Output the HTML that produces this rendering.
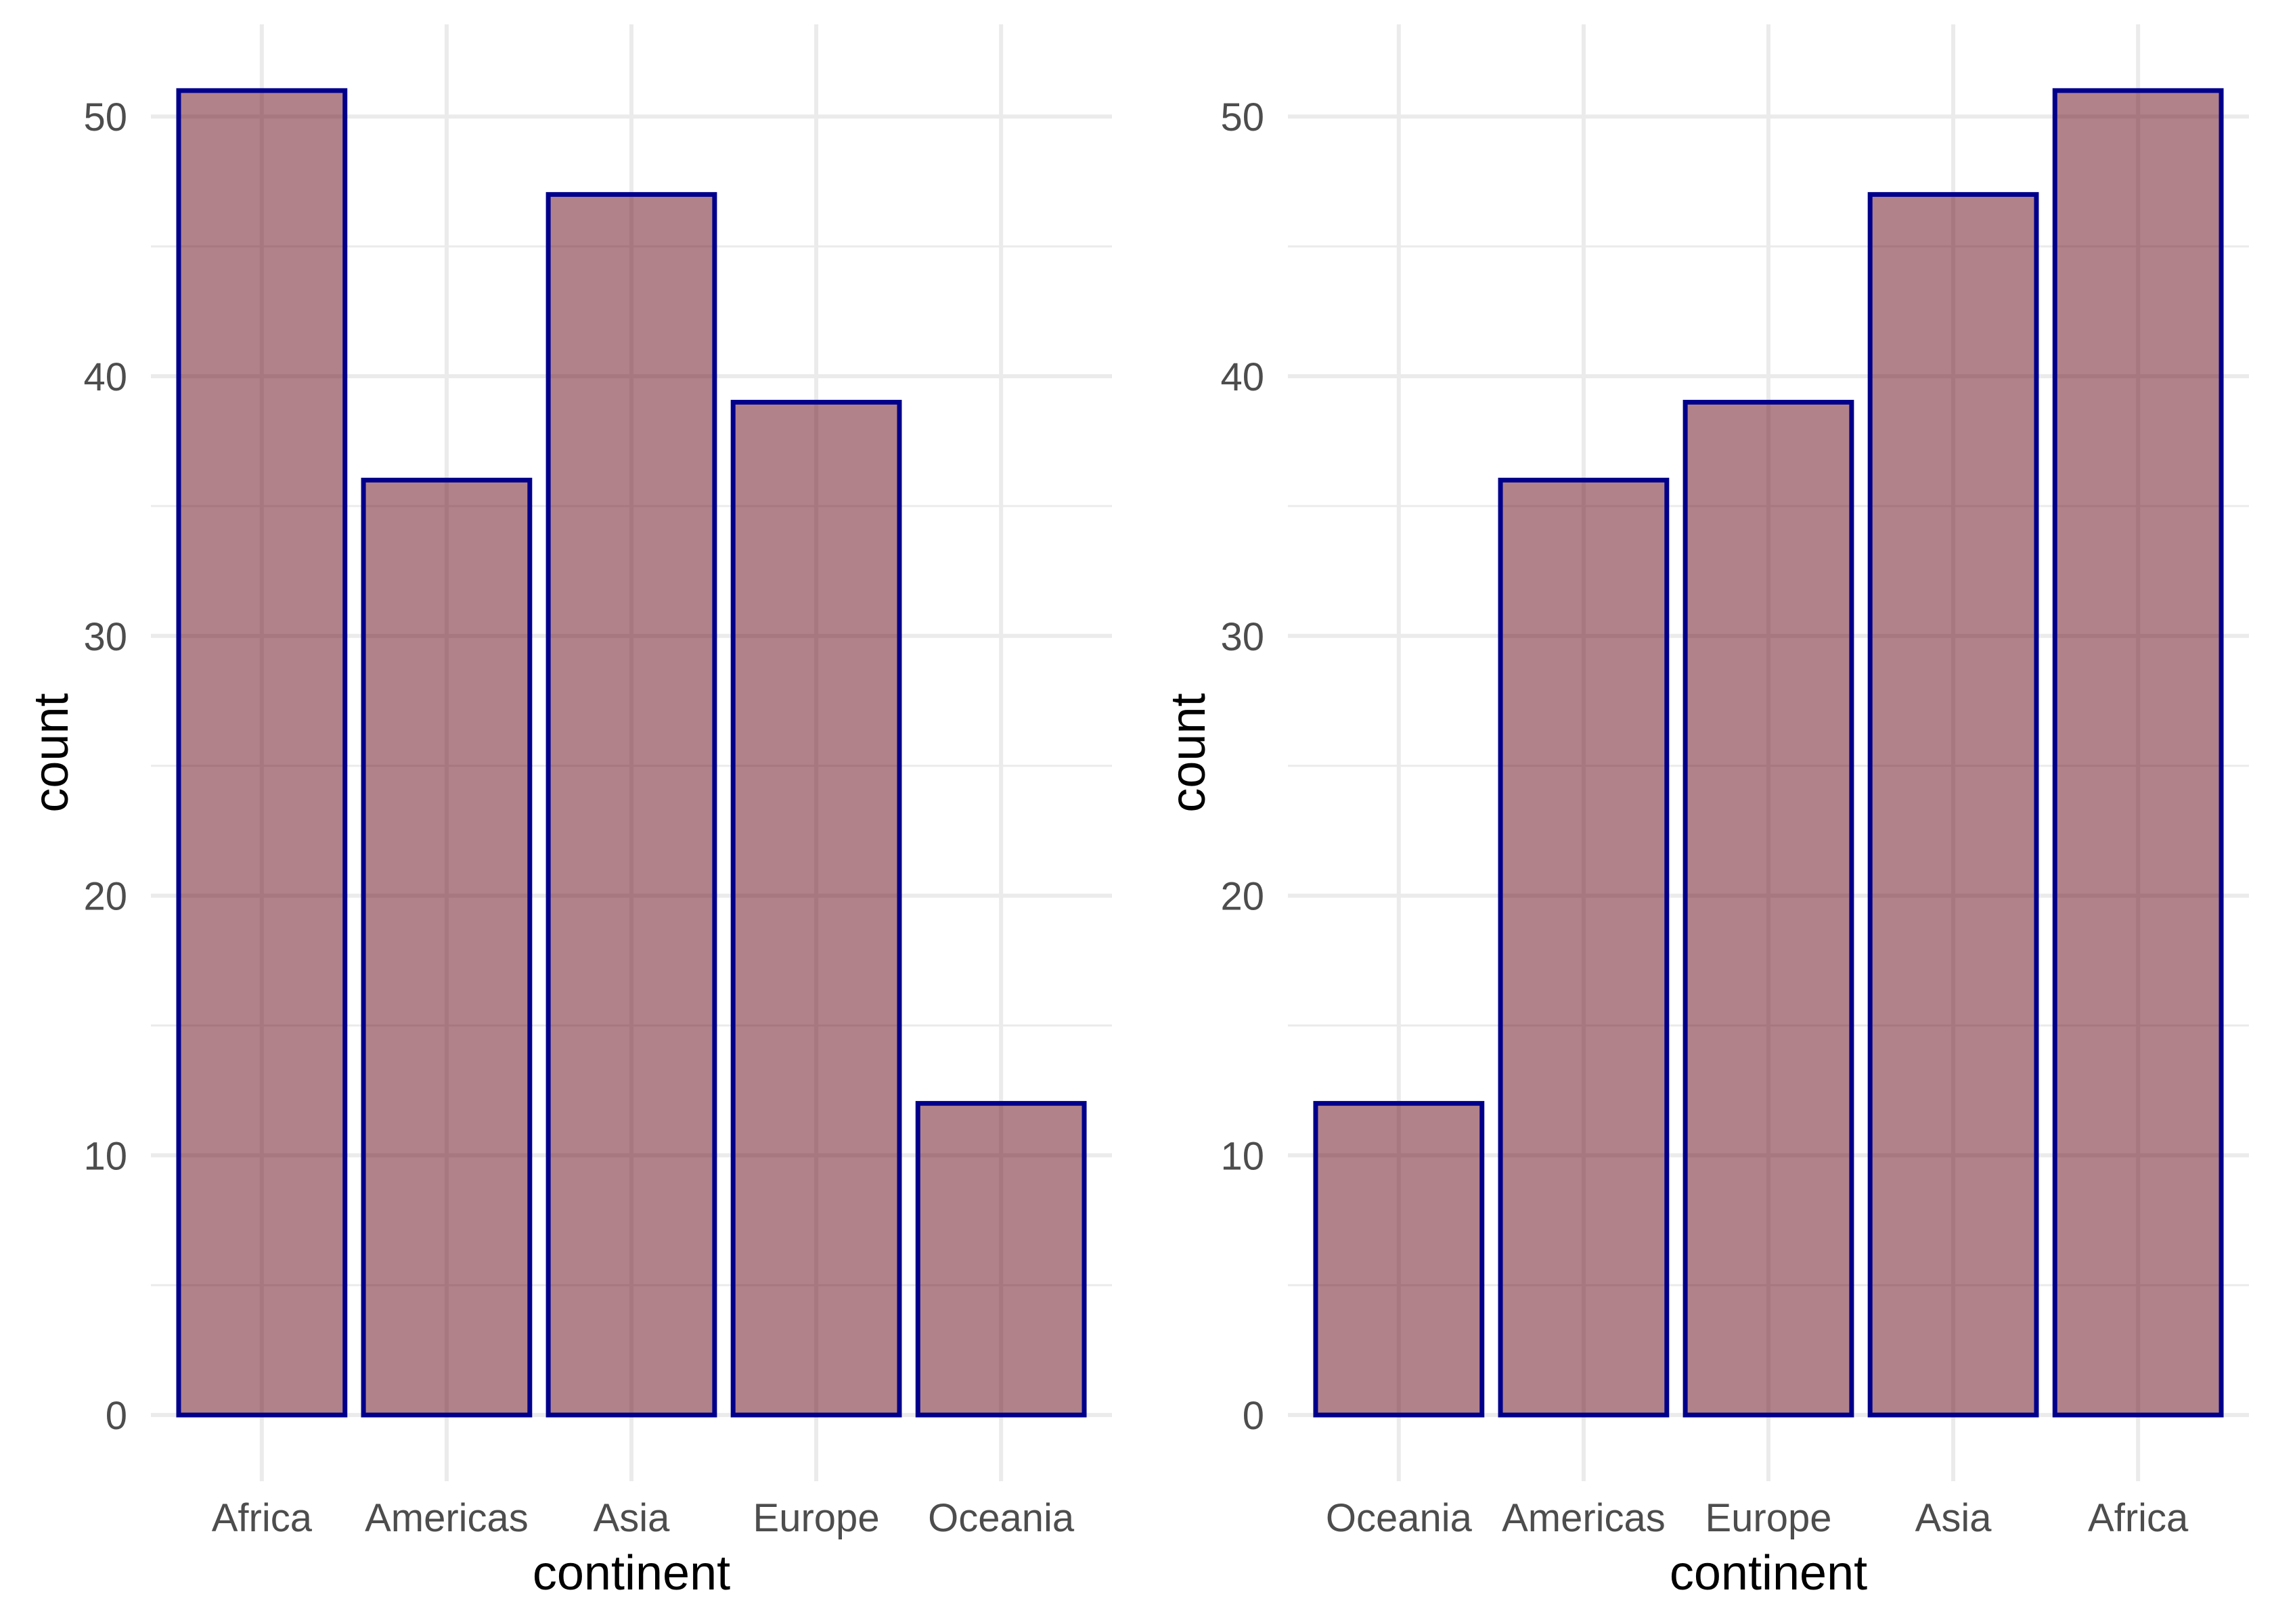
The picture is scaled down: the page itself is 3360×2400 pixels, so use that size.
<!DOCTYPE html>
<html><head><meta charset="utf-8"><style>
html,body{margin:0;padding:0;background:#fff;}
svg{display:block;font-family:"Liberation Sans",Arial,sans-serif;}
</style></head><body>
<svg id="chart" width="3360" height="2400" viewBox="0 0 3360 2400"></svg>
<script>
const leftCategories = ["Africa","Americas","Asia","Europe","Oceania"];
const leftCounts = [51,36,47,39,12];
const rightCategories = ["Oceania","Americas","Europe","Asia","Africa"];
const rightCounts = [12,36,39,47,51];
const yTicks = [0,10,20,30,40,50];
const yMinor = [5,15,25,35,45];

const NS = "http://www.w3.org/2000/svg";
const svg = document.getElementById("chart");
function mk(tag, attrs, parent){
  const e = document.createElementNS(NS, tag);
  for (const k in attrs) e.setAttribute(k, attrs[k]);
  (parent||svg).appendChild(e);
  return e;
}
const yTop = 36, yBot = 2189, yMin = -2.55, yMax = 53.55;
function yScale(v){ return yBot - (v - yMin) / (yMax - yMin) * (yBot - yTop); }

function panel(x0, x1, cats, vals, name, ytitleX){
  const g = mk("g", {});
  
  
  const n = cats.length;
  const step = (x1 - x0) / (n + 0.2);
  const xc = i => x0 + step * (0.6 + i);
  yMinor.forEach(v => {
    const l = mk("line", {x1:x0, x2:x1, y1:yScale(v), y2:yScale(v), stroke:"#ebebeb", "stroke-width":3}, g);
    
    
  });
  yTicks.forEach(v => {
    const l = mk("line", {x1:x0, x2:x1, y1:yScale(v), y2:yScale(v), stroke:"#ebebeb", "stroke-width":6}, g);
    
    
    const t = mk("text", {x:x0 - 35, y:yScale(v) + 21, "text-anchor":"end", "font-size":58, fill:"#4d4d4d"}, g);
    t.textContent = v;
    
    
  });
  cats.forEach((c, i) => {
    const l = mk("line", {x1:xc(i), x2:xc(i), y1:yTop, y2:yBot, stroke:"#ebebeb", "stroke-width":6}, g);
    
    
  });
  cats.forEach((c, i) => {
    const w = step * 0.9;
    const r = mk("rect", {x:xc(i) - w/2, y:yScale(vals[i]), width:w, height:yScale(0) - yScale(vals[i]),
      fill:"rgb(97,1,17)", "fill-opacity":0.49, stroke:"#00008b", "stroke-width":7}, g);
    
    
    const t = mk("text", {x:xc(i), y:2263, "text-anchor":"middle", "font-size":58, fill:"#4d4d4d"}, g);
    t.textContent = c;
    
    
  });
  const xt = mk("text", {x:(x0 + x1)/2, y:2349, "text-anchor":"middle", "font-size":72, fill:"#000"}, g);
  xt.textContent = "continent";
  
  
  const yt = mk("text", {x:0, y:0, "text-anchor":"middle", "font-size":72, fill:"#000",
    transform:"translate(" + (ytitleX + 25) + "," + ((yTop + yBot)/2) + ") rotate(-90)"}, g);
  yt.textContent = "count";
  
  
}
panel(223, 1643, leftCategories, leftCounts, "left-panel", 75);
panel(1903, 3323, rightCategories, rightCounts, "right-panel", 1755);
</script>
</body></html>
